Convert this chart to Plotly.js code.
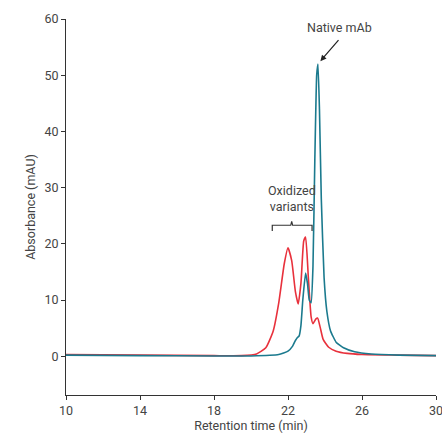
<!DOCTYPE html>
<html><head><script src="https://cdn.plot.ly/plotly-3.0.1.min.js"></script></head>
<body style="margin:0"><div id="graph" style="width:442px;height:438px"></div>
<script>
var redX = [10, 14, 18, 19.5, 20.3, 20.8, 21.2, 21.5, 21.8, 22.0, 22.2, 22.4, 22.55, 22.7, 22.85, 22.95, 23.1, 23.25, 23.35, 23.5, 23.6, 23.75, 23.9, 24.2, 24.6, 25.2, 26, 28, 30];
var redY = [0.3, 0.2, 0.1, 0.1, 0.4, 1.5, 4.5, 9.5, 16.5, 19.3, 17, 11.5, 9.3, 13, 20.5, 21.2, 14, 7, 5.8, 6.6, 6.8, 5, 3, 1.6, 0.9, 0.5, 0.3, 0.2, 0.1];
var blueX = [10, 14, 18, 20, 21.5, 22.0, 22.25, 22.4, 22.5, 22.6, 22.7, 22.8, 22.95, 23.05, 23.15, 23.25, 23.35, 23.45, 23.55, 23.62, 23.7, 23.8, 23.95, 24.1, 24.3, 24.6, 25, 25.6, 26.5, 28, 30];
var blueY = [0.2, 0.1, 0.05, 0.05, 0.3, 0.9, 1.8, 2.8, 3.3, 3.6, 5.5, 10, 14.8, 13, 10, 9.5, 16, 35, 50, 52, 44, 28, 14, 8, 4.5, 2.5, 1.5, 0.8, 0.4, 0.2, 0.1];
var xTicks = [10, 14, 18, 22, 26, 30];
var xTickText = ['10', '14', '18', '22', '26', ''];

var traces = [
  {x: redX, y: redY, mode: 'lines', line: {color: '#e8313c', width: 1.6, shape: 'spline', smoothing: 0.5}},
  {x: blueX, y: blueY, mode: 'lines', line: {color: '#1b7a8e', width: 1.6, shape: 'spline', smoothing: 0.4}}
];
var fontC = {family: 'Roboto, "Liberation Sans Narrow", sans-serif', size: 12.5, color: '#444'};
var layout = {
  width: 442, height: 438, showlegend: false,
  margin: {l: 66, r: 6, t: 19, b: 43},
  paper_bgcolor: 'white', plot_bgcolor: 'white',
  font: fontC,
  xaxis: {range: [10, 30], tickvals: xTicks, ticktext: xTickText, showgrid: false, zeroline: false,
    showline: true, linecolor: '#333', ticks: 'outside', ticklen: 4, tickcolor: '#333',
    title: {text: 'Retention time (min)', font: fontC, standoff: 4}},
  yaxis: {range: [-6.9, 60], tickvals: [0, 10, 20, 30, 40, 50, 60], showgrid: false, zeroline: false,
    showline: true, linecolor: '#333', ticks: 'outside', ticklen: 4, tickcolor: '#333',
    title: {text: 'Absorbance (mAU)', font: fontC, standoff: 6}},
  shapes: [
    {type: 'path', xref: 'x', yref: 'y', path: 'M 21.15 22.3 L 21.15 23.3 L 22.15 23.3 L 22.2 24.0 L 22.25 23.3 L 23.3 23.3 L 23.3 22.3', line: {color: '#333', width: 1.2}}
  ],
  annotations: [
    {x: 30, y: 0, xref: 'x', yref: 'paper', yshift: -6, text: '30', showarrow: false, yanchor: 'top', font: fontC},
    {x: 22.2, y: 25.0, xref: 'x', yref: 'y', text: 'Oxidized<br>variants', showarrow: false, yanchor: 'bottom', font: fontC},
    {x: 23.75, y: 52.5, ax: 24.8, ay: 56.5, xref: 'x', yref: 'y', axref: 'x', ayref: 'y', text: '', showarrow: true, arrowhead: 2, arrowsize: 1, arrowwidth: 1.2, arrowcolor: '#222'},
    {x: 24.8, y: 56.8, xref: 'x', yref: 'y', text: 'Native mAb', showarrow: false, yanchor: 'bottom', font: fontC}
  ]
};
Plotly.newPlot('graph', traces, layout, {displayModeBar: false});
</script></body></html>
